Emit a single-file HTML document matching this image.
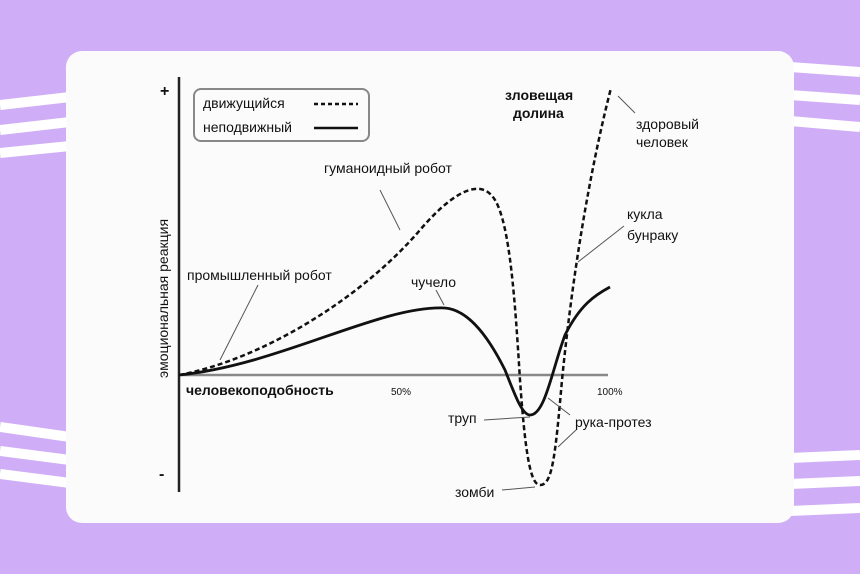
<!DOCTYPE html>
<html><head><meta charset="utf-8"><style>
html,body{margin:0;padding:0;background:#cfaef7;}
svg{display:block;}
text{font-family:"Liberation Sans","Noto Sans CJK SC",sans-serif;fill:#111;}
</style></head><body>
<svg width="860" height="574" viewBox="0 0 860 574" xmlns="http://www.w3.org/2000/svg">
<rect x="0" y="0" width="860" height="574" rx="22" fill="#cfaef7"/>
<g stroke="#fff" stroke-width="10" fill="none">
<path d="M0,105 L70,97"/><path d="M0,130 L70,122"/><path d="M0,153 L70,146"/>
<path d="M0,427 L70,437"/><path d="M0,451 L70,460"/><path d="M0,474 L70,483"/>
<path d="M790,67 L860,72"/><path d="M790,95 L860,100"/><path d="M790,121 L860,127"/>
<path d="M790,458 L860,455"/><path d="M790,484 L860,481"/><path d="M790,511 L860,508"/>
</g>
<rect x="66" y="51" width="728" height="472" rx="16" fill="#fbfbfb"/>
<line x1="179" y1="77" x2="179" y2="492" stroke="#222" stroke-width="2.5"/>
<line x1="179" y1="375" x2="608" y2="375" stroke="#888" stroke-width="2.5"/>
<text x="160" y="96" font-size="16" font-weight="bold">+</text>
<text x="159" y="479" font-size="16" font-weight="bold">-</text>
<text transform="translate(168,378) rotate(-90)" font-size="14">эмоциональная реакция</text>
<text x="186" y="395" font-size="14" font-weight="bold">человекоподобность</text>
<text x="391" y="395" font-size="10">50%</text>
<text x="597" y="395" font-size="10">100%</text>
<rect x="194" y="89" width="175" height="52" rx="7" fill="none" stroke="#888" stroke-width="2"/>
<text x="203" y="108" font-size="14">движущийся</text>
<text x="203" y="132" font-size="14">неподвижный</text>
<line x1="314" y1="104" x2="358" y2="104" stroke="#111" stroke-width="2.5" stroke-dasharray="4,3"/>
<line x1="314" y1="128" x2="358" y2="128" stroke="#111" stroke-width="2.5"/>
<text x="505" y="100" font-size="14" font-weight="bold">зловещая</text>
<text x="513" y="118" font-size="14" font-weight="bold">долина</text>
<path d="M179,375 C260,360 360,300 420,230 C450,195 480,175 495,200 C510,225 515,300 520,380 C525,450 530,485 540,485 C552,485 555,460 562,380 C575,250 595,150 611,88" fill="none" stroke="#111" stroke-width="2.5" stroke-dasharray="5,3"/>
<path d="M179,375 C280,365 380,305 445,308 C470,310 490,340 505,370 C515,395 522,415 530,415 C545,415 552,370 565,335 C580,305 595,295 610,287" fill="none" stroke="#111" stroke-width="2.8"/>
<g stroke="#555" stroke-width="1" fill="none">
<line x1="258" y1="285" x2="220" y2="360"/>
<line x1="380" y1="190" x2="400" y2="230"/>
<line x1="436" y1="290" x2="444" y2="305"/>
<line x1="618" y1="96" x2="635" y2="113"/>
<line x1="624" y1="226" x2="578" y2="262"/>
<line x1="484" y1="420" x2="530" y2="417"/>
<line x1="548" y1="398" x2="570" y2="415"/>
<line x1="576" y1="430" x2="558" y2="447"/>
<line x1="502" y1="490" x2="535" y2="487"/>
</g>
<text x="187" y="280" font-size="14">промышленный робот</text>
<text x="324" y="173" font-size="14">гуманоидный робот</text>
<text x="411" y="287" font-size="14">чучело</text>
<text x="636" y="129" font-size="14">здоровый</text>
<text x="636" y="147" font-size="14">человек</text>
<text x="627" y="219" font-size="14">кукла</text>
<text x="627" y="240" font-size="14">бунраку</text>
<text x="448" y="423" font-size="14">труп</text>
<text x="575" y="427" font-size="14">рука-протез</text>
<text x="455" y="497" font-size="14">зомби</text>
</svg>
</body></html>
